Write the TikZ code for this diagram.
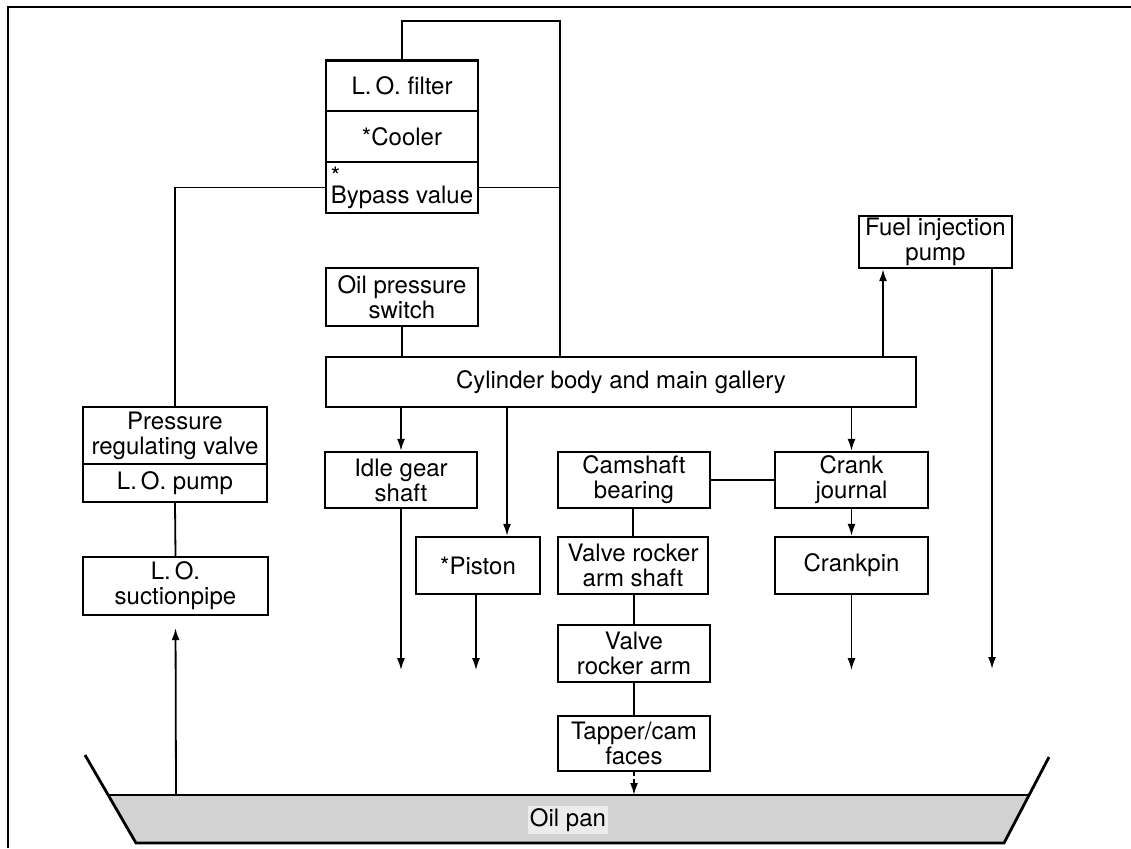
\documentclass[tikz,border=0pt]{standalone}
\usepackage{fontspec}
\setmainfont{TeX Gyre Heros}
\usepackage{xcolor}
\usepackage{tikz}
\usetikzlibrary{arrows.meta}

\begin{document}
\begin{tikzpicture}[x=1pt, y=-1pt, >={Latex[length=12pt,width=8pt]},
    blk/.style={draw, line width=2.3pt, align=center, inner sep=0pt,
        minimum width=152pt, minimum height=57pt,
        font=\fontsize{24}{25}\selectfont},
    pipe/.style={line width=1.8pt},
    panline/.style={line width=2.8pt}]
    \useasboundingbox (0,0) rectangle (1131,848);

    % --- LAYER 1: BINGKAI ---
    \draw[line width=1.4pt] (8,848) -- (8,7) -- (1131,7);

    % --- LAYER 2: OIL PAN ---
    \fill[gray!35] (108,795) -- (1028,795) -- (1004,843) -- (136,843) -- cycle;
    \draw[panline] (85,755) -- (136,843) -- (1004,843) -- (1049,757);
    \draw[panline] (108,795) -- (1028,795);
    \node[fill=gray!15, inner sep=2pt, font=\fontsize{24}{25}\selectfont] (oilpan) at (568,820) {Oil pan};

    % --- LAYER 3: FILTER, COOLER, BYPASS ---
    \node[blk, minimum height=50.7pt] (filter) at (402,86) {L.\,O. filter};
    \node[blk, minimum height=50.7pt] (cooler) at (402,136.7) {*Cooler};
    \node[blk, minimum height=50.7pt] (bypass) at (402,187.5) {\makebox[0pt][l]{\raisebox{0.8em}{*}}Bypass value};

    % --- LAYER 4: POMPA DAN SAKLAR ---
    \node[blk, minimum width=184pt] (prv) at (175,435.5) {Pressure\\regulating valve};
    \node[blk, minimum width=184pt, minimum height=38pt] (pump) at (175,483) {L.\,O. pump};
    \node[blk, minimum width=185pt, minimum height=58pt] (suction) at (175.5,586) {L.\,O.\\suctionpipe};
    \node[blk, minimum height=58pt] (opsw) at (402,297) {Oil pressure\\switch};
    \node[blk, minimum width=590pt, minimum height=50pt] (gallery) at (621,382) {Cylinder body and main gallery};
    \node[blk, minimum width=153pt, minimum height=52pt] (fuel) at (935.5,242) {Fuel injection\\pump};

    % --- LAYER 5: TITIK PELUMASAN ---
    \node[blk, minimum height=56pt] (idle) at (401,480) {Idle gear\\shaft};
    \node[blk, minimum width=124pt] (piston) at (478,565.5) {*Piston};
    \node[blk, minimum height=56pt] (cam) at (634,480) {Camshaft\\bearing};
    \node[blk, minimum width=153pt, minimum height=56pt] (journal) at (851.5,480) {Crank\\journal};
    \node[blk, minimum width=150pt] (rshaft) at (633,565.5) {Valve rocker\\arm shaft};
    \node[blk, minimum width=153pt] (crankpin) at (851.5,565.5) {Crankpin};
    \node[blk] (rarm) at (634,653.5) {Valve\\rocker arm};
    \node[blk, minimum height=55pt] (tapper) at (634,743.5) {Tapper/cam\\faces};

    % --- LAYER 6: TITIK BANTU ---
    \coordinate (loopR) at (560,21);
    \coordinate (pinIn) at ([xshift=29pt]piston.north);
    \coordinate (fuelIn) at ([xshift=-52.5pt]fuel.south);
    \coordinate (fuelOut) at ([xshift=56.5pt]fuel.south);
    \coordinate (suckIn) at (176,795);
    \coordinate (tapOut) at (634,795);

    % --- LAYER 7: PIPA ---
    \draw[pipe] (filter.north) |- (loopR) -- (loopR |- gallery.north);
    \draw[pipe] (bypass.east) -- (bypass.east -| loopR);
    \draw[pipe] (bypass.west) -| (prv.north);
    \draw[pipe] (pump.south) -- (suction.north);
    \draw[pipe, ->, shorten >=12pt] (suckIn) -- (suction.south);
    \draw[pipe] (opsw.south) -- (gallery.north -| opsw.south);
    \draw[pipe, ->] (fuelIn |- gallery.north) -- (fuelIn);
    \draw[pipe, ->] (fuelOut) -- (fuelOut |- 0,669);
    \draw[pipe, ->] (idle.north |- gallery.south) -- (idle.north);
    \draw[pipe, ->] (pinIn |- gallery.south) -- (pinIn);
    \draw[pipe, ->] (journal.north |- gallery.south) -- (journal.north);
    \draw[pipe] (cam.east) -- (journal.west);
    \draw[pipe] (cam.south -| rshaft.north) -- (rshaft.north);
    \draw[pipe, ->] (journal.south) -- (crankpin.north);
    \draw[pipe] (rshaft.south) -- (rarm.south |- rshaft.south) -- (rarm.north);
    \draw[pipe] (rarm.south) -- (tapper.north);
    \draw[pipe, ->, dashed, dash pattern=on 4pt off 3pt] (tapper.south) -- (tapOut);

    % --- LAYER 8: ALIRAN BALIK KE PAN ---
    \draw[pipe, ->] (idle.south) -- ++(0,161);
    \draw[pipe, ->] ([xshift=-2pt]piston.south) -- ++(0,75);
    \draw[pipe, ->] (crankpin.south) -- ++(0,75);

\end{tikzpicture}
\end{document}
